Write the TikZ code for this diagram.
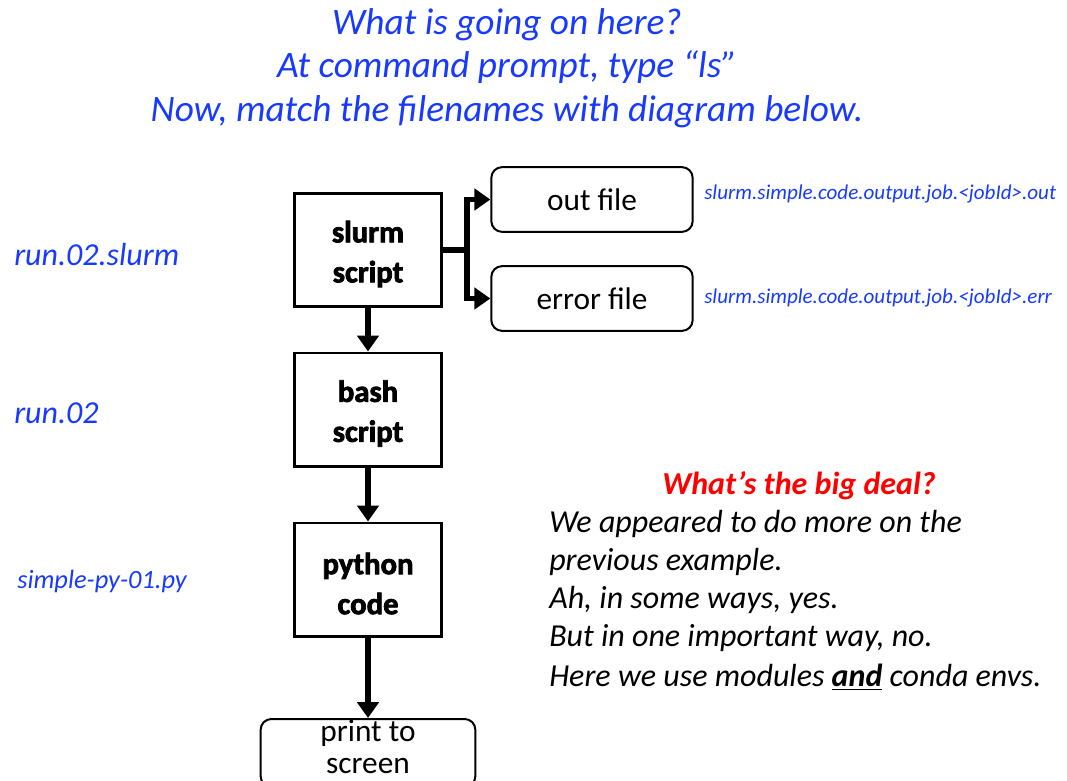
\documentclass[tikz,border=0pt]{standalone}
\usepackage{fontspec}
\setmainfont{Carlito}
\newfontfamily\heavy{Carlito Bold}[FakeBold=2.5]
\usetikzlibrary{arrows.meta}
\definecolor{tblue}{RGB}{24,58,255}
\definecolor{tred}{RGB}{255,0,0}
\tikzset{
  sq/.style={draw, line width=2pt, minimum width=110pt, minimum height=85pt, inner sep=0pt},
  sqtext/.style={inner sep=0pt, align=center, font=\heavy\fontsize{23}{30}\selectfont},
  rbox/.style={draw, line width=1.5pt, rounded corners=8pt, minimum width=151pt, minimum height=48.5pt, inner sep=0pt, font=\fontsize{23.5}{26}\selectfont},
  conn/.style={line width=4pt, -{Triangle[length=12pt,width=16pt]}},
  bluelab/.style={text=tblue, font=\itshape\fontsize{24}{28}\selectfont, anchor=west, inner sep=0pt},
  filelab/.style={text=tblue, font=\itshape\fontsize{15.8}{18}\selectfont, anchor=west, inner sep=0pt},
  bodyline/.style={anchor=west, inner sep=0pt, font=\itshape\fontsize{24}{28}\selectfont},
}
\begin{document}
\begin{tikzpicture}[x=0.75pt,y=-0.75pt]
\useasboundingbox (0,0) rectangle (1067,781);
% title
\node[text=tblue, font=\itshape\fontsize{28}{32.5}\selectfont, align=center, inner sep=0pt] (title) at (507,68)
  {What is going on here?\\At command prompt, type “ls”\\Now, match the filenames with diagram below.};
% boxes
\node[sq] (slurm) at (368,250) {};
\node[sqtext] (slurmt) at ([yshift=-3pt]slurm.center) {slurm\\script};
\node[sq] (bash) at (368,409.5) {};
\node[sqtext] (basht) at ([yshift=-3pt]bash.center) {bash\\script};
\node[sq] (py) at (368,579.5) {};
\node[sqtext] (pyt) at ([yshift=-3pt]py.center) {python\\code};
\node[rbox] (out) at (592,199.5) {out file};
\node[rbox] (err) at (592,298.5) {error file};
\node[draw, line width=1.5pt, rounded corners=8pt, minimum width=161pt, minimum height=51pt, inner sep=0pt, anchor=north] (print) at (368,718) {};
\node[inner sep=0pt, align=center, font=\fontsize{23.5}{24}\selectfont] (printt) at (368,747) {print to\\screen};
% connectors
\coordinate (split) at (467,250);
\draw[line width=4pt] (slurm.east) -- (split);
\draw[conn] (split) |- (out.west);
\draw[conn] (split) |- (err.west);
\draw[conn] (slurm.south) -- (bash.north);
\draw[conn] (bash.south) -- (py.north);
\draw[conn] (py.south) -- (print.north);
% left labels
\node[bluelab] (l1) at (14,255) {run.02.slurm};
\node[bluelab] (l2) at (14,413) {run.02};
\node[bluelab, font=\itshape\fontsize{19.8}{24}\selectfont] (l3) at (17,581) {simple-py-01.py};
% file labels
\node[filelab] (f1) at (704,194) {slurm.simple.code.output.job.<jobId>.out};
\node[filelab] (f2) at (704,298) {slurm.simple.code.output.job.<jobId>.err};
% right text
\node[text=tred, font=\bfseries\itshape\fontsize{24}{28}\selectfont, inner sep=0pt] (deal) at (799,486) {What’s the big deal?};
\node[bodyline] (b1) at (549,524) {We appeared to do more on the};
\node[bodyline] (b2) at (549,562) {previous example.};
\node[bodyline] (b3) at (549,600) {Ah, in some ways, yes.};
\node[bodyline] (b4) at (549,638) {But in one important way, no.};
\node[bodyline] (b5) at (549,677) {Here we use modules \underline{\textbf{and}} conda envs.};
\end{tikzpicture}
\end{document}
